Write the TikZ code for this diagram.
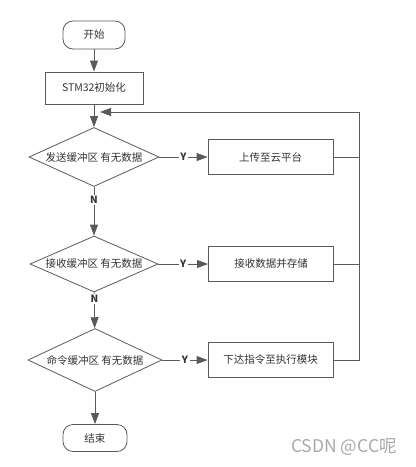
\documentclass[tikz,border=0pt]{standalone}
\usepackage{fontspec}
\setmainfont{Noto Sans CJK SC}
\usetikzlibrary{arrows.meta}
\usetikzlibrary{shapes.geometric}
\tikzset{>={Triangle[length=11pt,width=8pt]}}
\definecolor{linegray}{HTML}{5A5A5A}
\definecolor{textgray}{HTML}{333333}
\definecolor{markgray}{HTML}{A8A8A8}

\begin{document}
\begin{tikzpicture}[x=1pt, y=-1pt, font=\fontsize{10.5}{12}\selectfont, text=textgray,
    line/.style={draw=linegray, line width=.8pt},
    terminal/.style={line, rectangle, rounded corners=10pt, inner sep=0pt},
    process/.style={line, rectangle, inner sep=0pt, minimum width=125pt, minimum height=35pt},
    decision/.style={line, diamond, aspect=2.2, inner sep=0pt},
    yn/.style={fill=white, inner sep=1.5pt, font=\fontsize{10}{11}\selectfont\bfseries}]
  \useasboundingbox (0,0) rectangle (416,467);
  % nodes
  \node[terminal, minimum width=62pt, minimum height=28pt] (start) at (94,35) {开始};
  \node[process, minimum width=98pt, minimum height=32pt] (init) at (94,88) {STM32初始化};
  \node[decision, minimum width=130pt, minimum height=59pt] (d1) at (94,157) {发送缓冲区 有无数据};
  \node[process] (b1) at (270.5,157) {上传至云平台};
  \node[decision, minimum width=128pt, minimum height=56pt] (d2) at (94,264) {接收缓冲区 有无数据};
  \node[process] (b2) at (271,264) {接收数据并存储};
  \node[decision, minimum width=134pt, minimum height=63pt] (d3) at (95,360) {命令缓冲区 有无数据};
  \node[process] (b3) at (270.5,360) {下达指令至执行模块};
  \node[terminal, minimum width=64pt, minimum height=27pt] (stop) at (95,438) {结束};
  \node[text=markgray, font=\fontsize{17.5}{19}\selectfont] (csdn) at (344,447) {CSDN @CC呢};
  % arrows
  \draw[line, ->] (start) -- (init);
  \draw[line, ->] (init) -- (d1);
  \draw[line, ->] (d1) -- node[yn] {Y} (b1);
  \draw[line, ->] (d1) -- node[yn, pos=.27] {N} (d2);
  \draw[line, ->] (d2) -- node[yn] {Y} (b2);
  \draw[line, ->] (d2) -- node[yn, pos=.19] {N} (d3);
  \draw[line, ->] (d3) -- node[yn] {Y} (b3);
  \draw[line, ->] (d3) -- (stop);
  % back to the top
  \coordinate (ret) at (359,112);
  \coordinate (join) at (100,112);
  \draw[line] (b1.east) -- (b1.east -| ret);
  \draw[line] (b2.east) -- (b2.east -| ret);
  \draw[line, ->] (b3.east) -| (ret) -- (join);
\end{tikzpicture}
\end{document}
